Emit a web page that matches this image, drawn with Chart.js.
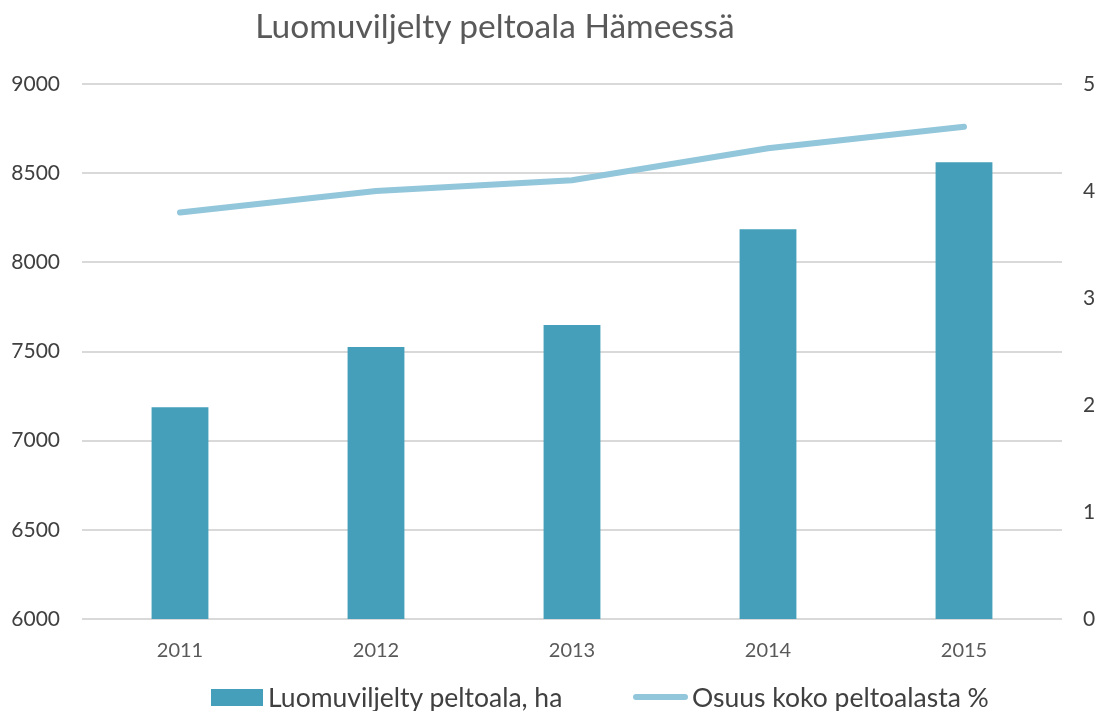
<!DOCTYPE html>
<html>
<head>
<meta charset="utf-8">
<script src="https://cdn.jsdelivr.net/npm/chart.js@4/dist/chart.umd.min.js"></script>
<style>
  html, body { margin: 0; padding: 0; background: #ffffff; }
  #wrap { width: 1099px; height: 711px; position: relative; font-family: Lato, "Open Sans", sans-serif; }
  #chart { position: absolute; left: 0; top: 0; }
  .chart-title {
    position: absolute; left: 0; top: 5px; width: 990px; text-align: center;
    font-size: 33.5px; color: #595959; line-height: 40px; white-space: nowrap;
  }
  .legend { position: absolute; left: 0; top: 680px; width: 1099px; height: 34px; }
  .legend-item { position: absolute; top: 0; height: 34px; display: flex; align-items: center; }
  .legend-item span { font-size: 26.5px; color: #404040; line-height: 34px; white-space: nowrap; }
  .legend-box { width: 52px; height: 17px; margin-right: 5px; }
  .legend-line { width: 55px; height: 6px; border-radius: 3px; margin-right: 4px; }
</style>
</head>
<body>
<div id="wrap">
  <canvas id="chart" width="1099" height="711"></canvas>
  <div class="chart-title" id="title"></div>
  <div class="legend" id="legend"></div>
</div>
<script>
// Data
const years = ['2011', '2012', '2013', '2014', '2015'];
const organicArea = [7187, 7525, 7649, 8185, 8561];   // ha
const shareOfField = [3.80, 4.00, 4.10, 4.40, 4.60];  // %

const titleText = 'Luomuviljelty peltoala Hämeessä';
const barLabel = 'Luomuviljelty peltoala, ha';
const lineLabel = 'Osuus koko peltoalasta %';
const barColor = '#459FBA';
const lineColor = '#92C6DA';
const fontFamily = 'Lato, "Open Sans", sans-serif';

document.getElementById('title').textContent = titleText;

new Chart(document.getElementById('chart'), {
  data: {
    labels: years,
    datasets: [
      {
        type: 'bar',
        label: barLabel,
        data: organicArea,
        backgroundColor: barColor,
        borderWidth: 0,
        categoryPercentage: 0.58,
        barPercentage: 0.5,
        yAxisID: 'y'
      },
      {
        type: 'line',
        label: lineLabel,
        data: shareOfField,
        borderColor: lineColor,
        backgroundColor: lineColor,
        borderWidth: 6,
        borderCapStyle: 'round',
        pointRadius: 0,
        pointHoverRadius: 0,
        tension: 0,
        yAxisID: 'y1'
      }
    ]
  },
  options: {
    responsive: false,
    animation: false,
    layout: { padding: { top: 84, bottom: 36 } },
    plugins: {
      legend: { display: false },
      tooltip: { enabled: false }
    },
    scales: {
      x: {
        grid: { display: false, drawTicks: false },
        border: { display: false },
        ticks: { color: '#595959', font: { family: fontFamily, size: 20 }, padding: 20 },
        afterFit: function(scale) { scale.height = 56; }
      },
      y: {
        position: 'left',
        min: 6000,
        max: 9000,
        ticks: {
          stepSize: 500, color: '#404040', font: { family: fontFamily, size: 21 }, padding: 22,
          callback: function(value) { return String(value); }
        },
        grid: { color: '#D9D9D9', lineWidth: 2, drawTicks: false },
        border: { display: false },
        afterFit: function(scale) { scale.width = 82; }
      },
      y1: {
        position: 'right',
        min: 0,
        max: 5,
        ticks: { stepSize: 1, color: '#404040', font: { family: fontFamily, size: 21 }, padding: 21 },
        grid: { drawOnChartArea: false, drawTicks: false },
        border: { display: false },
        afterFit: function(scale) { scale.width = 37; }
      }
    }
  }
});

// HTML legend
const legend = document.getElementById('legend');
const legendItems = [
  { label: barLabel, cls: 'legend-box', color: barColor, left: 211 },
  { label: lineLabel, cls: 'legend-line', color: lineColor, left: 633 }
];
legendItems.forEach(item => {
  const el = document.createElement('div');
  el.className = 'legend-item';
  el.style.left = item.left + 'px';
  el.innerHTML = `
    <div class="${item.cls}" style="background-color: ${item.color}"></div>
    <span>${item.label}</span>
  `;
  legend.appendChild(el);
});
</script>
</body>
</html>
